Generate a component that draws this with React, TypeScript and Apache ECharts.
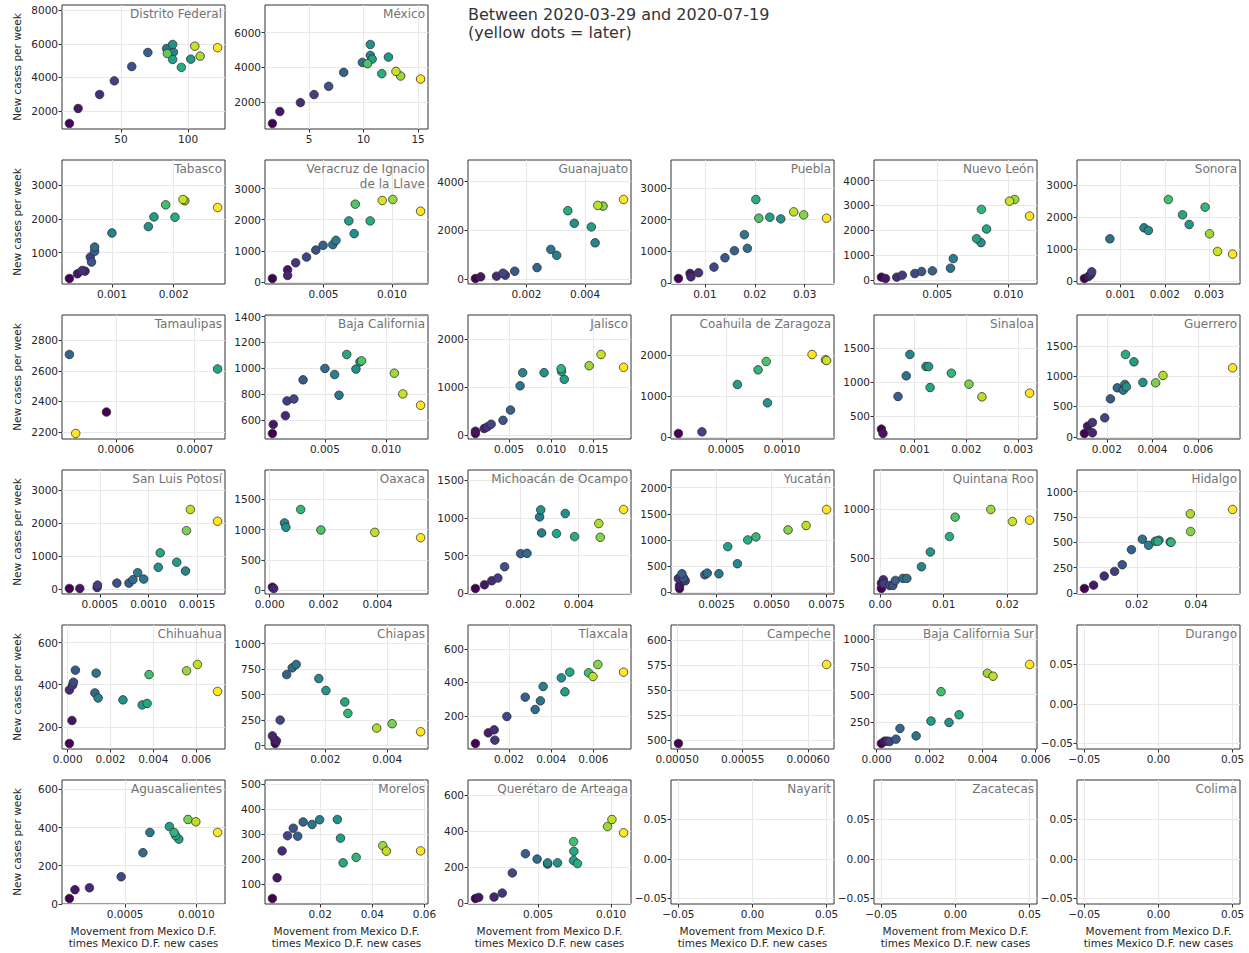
import React, { useEffect, useRef } from "react";
import * as echarts from "echarts";

type P = [number, number, number]; // [x, new cases, colour position 0..1 (time)]

const distritoFederal: P[] = [[11.5,1267,0],[18,2158,0.06],[34,2990,0.13],[45,3800,0.19],[58,4650,0.25],[70,5485,0.31],[84,5720,0.37],[88.5,5960,0.5],[89,5500,0.44],[102,5090,0.53],[88.5,5070,0.56],[95,4600,0.62],[84.5,5425,0.75],[109,5270,0.87],[105,5860,0.92],[122,5770,1]];
const mexico: P[] = [[1.64,781,0],[2.32,1467,0.06],[4.21,1981,0.13],[5.46,2438,0.19],[6.8,2914,0.25],[8.18,3714,0.31],[9.89,4286,0.37],[10.62,5314,0.5],[10.62,4686,0.46],[10.79,4476,0.56],[10.36,4210,0.72],[12.28,4590,0.53],[11.67,3638,0.62],[12.97,3771,0.92],[13.4,3505,0.85],[15.23,3333,1]];
const tabasco: P[] = [[0.000312,238,0],[0.000442,376,0.06],[0.00052,475,0.13],[0.000565,455,0.1],[0.00065,871,0.2],[0.00067,723,0.25],[0.00072,1040,0.31],[0.00072,1168,0.35],[0.001,1584,0.44],[0.00159,1772,0.5],[0.00168,2059,0.56],[0.00187,2416,0.7],[0.00202,2049,0.62],[0.00215,2574,0.92],[0.00218,2535,0.85],[0.00271,2337,1]];
const veracruz: P[] = [[0.00127,118,0],[0.00238,397,0.06],[0.00238,214,0.1],[0.00297,622,0.15],[0.00376,804,0.2],[0.00444,1029,0.25],[0.00497,1179,0.31],[0.00568,1201,0.37],[0.00591,1340,0.42],[0.00685,1962,0.56],[0.00724,1554,0.5],[0.00732,2498,0.72],[0.00841,1962,0.62],[0.00929,2616,0.94],[0.01006,2648,0.85],[0.01209,2273,1]];
const guanajuato: P[] = [[0.00026,14,0],[0.00044,82,0.06],[0.00098,109,0.12],[0.0012,231,0.2],[0.00128,150,0.17],[0.0016,313,0.28],[0.00236,462,0.33],[0.00283,1210,0.38],[0.00303,966,0.42],[0.00341,2802,0.62],[0.00363,2285,0.5],[0.00421,2135,0.56],[0.00434,1482,0.46],[0.00443,3019,0.9],[0.00461,2992,0.82],[0.00531,3264,1]];
const puebla: P[] = [[0.00466,138,0],[0.007,297,0.06],[0.00717,191,0.1],[0.0087,318,0.15],[0.0118,498,0.22],[0.014,795,0.28],[0.0159,1018,0.31],[0.0179,1526,0.4],[0.0185,1092,0.35],[0.0202,2639,0.62],[0.0208,2046,0.72],[0.023,2078,0.56],[0.0252,2025,0.5],[0.0278,2247,0.9],[0.0298,2152,0.82],[0.0344,2046,1]];
const nuevoLeon: P[] = [[0.00107,107,0],[0.00136,54,0.06],[0.00215,107,0.12],[0.00254,187,0.17],[0.00342,254,0.22],[0.0039,334,0.27],[0.00466,361,0.31],[0.00593,468,0.37],[0.00613,856,0.42],[0.00777,1659,0.56],[0.00808,1499,0.5],[0.00811,2837,0.65],[0.00847,2047,0.6],[0.01009,3171,0.92],[0.01045,3238,0.85],[0.0115,2569,1]];
const sonora: P[] = [[0.000185,83,0],[0.000277,145,0.06],[0.00035,291,0.18],[0.00033,208,0.12],[0.00076,1318,0.37],[0.00153,1661,0.44],[0.00163,1578,0.48],[0.00208,2543,0.7],[0.0024,2066,0.6],[0.00255,1765,0.53],[0.00291,2304,0.66],[0.00301,1474,0.85],[0.00319,924,0.92],[0.00353,841,1]];
const tamaulipas: P[] = [[0.000588,2330,0],[0.000541,2708,0.33],[0.000729,2613,0.6],[0.000549,2189,1]];
const bajaCalifornia: P[] = [[0.00072,496,0],[0.00079,566,0.06],[0.00178,634,0.12],[0.00191,748,0.18],[0.00247,763,0.22],[0.00322,911,0.28],[0.005,999,0.35],[0.00579,952,0.44],[0.00615,792,0.4],[0.00678,1107,0.6],[0.00753,994,0.5],[0.00786,1050,0.55],[0.00799,1058,0.72],[0.01066,962,0.85],[0.01135,802,0.92],[0.0128,714,1]];
const jalisco: P[] = [[0.00099,35,0],[0.00099,83,0.05],[0.00203,138,0.1],[0.0024,172,0.15],[0.00286,228,0.2],[0.00427,310,0.27],[0.00516,524,0.32],[0.0063,1030,0.4],[0.00661,1304,0.45],[0.00915,1304,0.5],[0.01123,1332,0.6],[0.01118,1387,0.65],[0.01155,1166,0.55],[0.01451,1449,0.85],[0.01592,1684,0.92],[0.0186,1415,1]];
const coahuila: P[] = [[0.000072,82,0],[0.000283,122,0.2],[0.000601,1281,0.55],[0.000786,1640,0.65],[0.000859,1844,0.72],[0.00087,832,0.52],[0.00127,2016,1],[0.00139,1885,0.9],[0.0014,1869,0.93]];
const sinaloa: P[] = [[0.00036,309,0],[0.00039,245,0.05],[0.00068,789,0.3],[0.00084,1093,0.38],[0.00091,1407,0.45],[0.00122,1230,0.5],[0.00127,1230,0.53],[0.0013,921,0.6],[0.00171,1132,0.65],[0.00205,970,0.8],[0.0023,784,0.9],[0.00322,838,1]];
const guerrero: P[] = [[0.00102,55,0],[0.00116,176,0.06],[0.00137,66,0.1],[0.00137,236,0.15],[0.00191,313,0.2],[0.00216,626,0.28],[0.00246,808,0.33],[0.00272,769,0.4],[0.00279,863,0.45],[0.00286,824,0.5],[0.00282,1357,0.62],[0.00319,1236,0.55],[0.00358,896,0.5],[0.00414,890,0.8],[0.00446,1011,0.88],[0.00751,1137,1]];
const sanLuisPotosi: P[] = [[0.000186,10,0],[0.000293,10,0.06],[0.000471,41,0.12],[0.000475,112,0.18],[0.000674,173,0.25],[0.000798,173,0.3],[0.000839,275,0.35],[0.000888,490,0.42],[0.00095,296,0.38],[0.0011,653,0.5],[0.00112,1091,0.6],[0.00129,806,0.55],[0.00138,541,0.45],[0.00139,1765,0.8],[0.00143,2407,0.9],[0.00171,2050,1]];
const oaxaca: P[] = [[0.0001,50,0],[0.00015,28,0.1],[0.00055,1111,0.45],[0.0006,1039,0.5],[0.00115,1333,0.65],[0.0019,994,0.72],[0.0039,955,0.9],[0.0056,867,1]];
const michoacan: P[] = [[0.00046,66,0],[0.00077,115,0.06],[0.00102,168,0.12],[0.00123,204,0.18],[0.00146,354,0.25],[0.00201,527,0.3],[0.00223,531,0.35],[0.00266,1013,0.4],[0.0027,1106,0.5],[0.00273,801,0.42],[0.00324,792,0.6],[0.00354,1058,0.48],[0.00386,752,0.62],[0.00469,925,0.88],[0.00474,743,0.82],[0.00554,1111,1]];
const yucatan: P[] = [[0.00082,71,0],[0.00082,128,0.06],[0.00077,263,0.12],[0.00108,218,0.18],[0.00093,353,0.3],[0.00101,269,0.25],[0.00197,333,0.33],[0.00208,365,0.36],[0.00261,353,0.4],[0.00301,872,0.56],[0.00345,545,0.45],[0.00392,1000,0.62],[0.00429,1058,0.66],[0.00575,1192,0.82],[0.00657,1276,0.9],[0.0075,1583,1]];
const quintanaRoo: P[] = [[0.0002,186,0],[0.0002,241,0.06],[0.0005,276,0.12],[0.0006,235,0.18],[0.0015,217,0.2],[0.002,217,0.25],[0.0024,269,0.3],[0.0036,290,0.35],[0.0042,290,0.38],[0.0065,410,0.45],[0.0079,562,0.52],[0.0109,721,0.62],[0.0118,921,0.72],[0.0174,1000,0.85],[0.0208,876,0.92],[0.0235,890,1]];
const hidalgo: P[] = [[0.0023,43,0],[0.0054,76,0.06],[0.009,166,0.12],[0.0125,212,0.18],[0.0151,278,0.25],[0.0182,427,0.3],[0.0219,530,0.38],[0.024,470,0.42],[0.0263,510,0.5],[0.0275,520,0.58],[0.0271,510,0.62],[0.0313,503,0.55],[0.0316,500,0.65],[0.0381,781,0.88],[0.0382,606,0.82],[0.0524,824,1]];
const chihuahua: P[] = [[0.00008,121,0],[0.0002,230,0.06],[0.00008,375,0.12],[0.00023,398,0.18],[0.00027,412,0.22],[0.00036,469,0.28],[0.00127,361,0.35],[0.00133,455,0.4],[0.00142,337,0.44],[0.00258,328,0.5],[0.00348,304,0.55],[0.00371,311,0.6],[0.0038,448,0.7],[0.00555,466,0.85],[0.00606,496,0.9],[0.007,368,1]];
const chiapas: P[] = [[0.00029,95,0.1],[0.00037,53,0.05],[0.00038,20,0],[0.00042,46,0.08],[0.00054,250,0.2],[0.00075,697,0.3],[0.00093,763,0.35],[0.00106,796,0.38],[0.00179,658,0.45],[0.00202,540,0.52],[0.00263,428,0.6],[0.00273,316,0.65],[0.00366,171,0.88],[0.00416,214,0.8],[0.00508,135,1]];
const tlaxcala: P[] = [[0.00041,34,0],[0.00102,98,0.08],[0.0013,116,0.12],[0.00133,54,0.15],[0.0019,196,0.2],[0.00277,312,0.3],[0.00324,238,0.35],[0.00349,290,0.38],[0.00362,376,0.42],[0.00448,428,0.5],[0.00465,344,0.55],[0.00488,462,0.6],[0.00577,458,0.7],[0.00598,436,0.9],[0.00621,508,0.82],[0.00743,462,1]];
const campeche: P[] = [[0.000501,497,0],[0.000614,576,1]];
const bajaCaliforniaSur: P[] = [[0.00018,58,0],[0.0003,79,0.06],[0.0004,79,0.12],[0.00049,76,0.2],[0.00073,97,0.28],[0.00088,194,0.33],[0.00149,127,0.4],[0.00205,261,0.55],[0.00243,527,0.7],[0.00273,248,0.5],[0.00311,318,0.6],[0.00418,694,0.85],[0.00439,667,0.9],[0.00577,773,1]];
const durango: P[] = [];
const aguascalientes: P[] = [[0.000108,28,0],[0.000147,74,0.06],[0.000249,84,0.12],[0.000472,142,0.22],[0.000625,268,0.35],[0.000674,374,0.4],[0.000811,405,0.55],[0.000844,374,0.65],[0.000855,358,0.6],[0.000877,339,0.58],[0.000942,442,0.8],[0.000997,430,0.9],[0.00115,374,1]];
const morelos: P[] = [[0.0017,41,0],[0.0035,124,0.06],[0.0054,232,0.12],[0.0075,293,0.2],[0.0097,323,0.25],[0.0114,291,0.3],[0.0135,348,0.33],[0.0169,338,0.38],[0.0198,357,0.42],[0.0266,358,0.5],[0.0278,283,0.55],[0.0288,184,0.6],[0.0338,206,0.65],[0.044,253,0.85],[0.0454,231,0.9],[0.0585,232,1]];
const queretaro: P[] = [[0.0007,26,0],[0.00093,32,0.05],[0.00198,34,0.1],[0.00254,56,0.15],[0.00323,168,0.22],[0.00413,275,0.3],[0.00493,245,0.35],[0.00565,217,0.4],[0.00565,224,0.45],[0.00633,224,0.5],[0.00743,237,0.55],[0.00745,288,0.6],[0.0077,220,0.62],[0.00743,342,0.7],[0.00976,426,0.85],[0.01006,465,0.9],[0.01086,391,1]];
const nayarit: P[] = [];
const zacatecas: P[] = [];
const colima: P[] = [];

const panelNames = ["Distrito Federal","México","Tabasco","Veracruz de Ignacio\nde la Llave","Guanajuato","Puebla","Nuevo León","Sonora","Tamaulipas","Baja California","Jalisco","Coahuila de Zaragoza","Sinaloa","Guerrero","San Luis Potosí","Oaxaca","Michoacán de Ocampo","Yucatán","Quintana Roo","Hidalgo","Chihuahua","Chiapas","Tlaxcala","Campeche","Baja California Sur","Durango","Aguascalientes","Morelos","Querétaro de Arteaga","Nayarit","Zacatecas","Colima"];
const panelPoints: P[][] = [distritoFederal, mexico, tabasco, veracruz, guanajuato, puebla, nuevoLeon, sonora, tamaulipas, bajaCalifornia, jalisco, coahuila, sinaloa, guerrero, sanLuisPotosi, oaxaca, michoacan, yucatan, quintanaRoo, hidalgo, chihuahua, chiapas, tlaxcala, campeche, bajaCaliforniaSur, durango, aguascalientes, morelos, queretaro, nayarit, zacatecas, colima];

const E = ["−0.05","0.00","0.05"];
const xTickLabels: string[][] = [
  ["50","100"],["5","10","15"],
  ["0.001","0.002"],["0.005","0.010"],["0.002","0.004"],["0.01","0.02","0.03"],["0.005","0.010"],["0.001","0.002","0.003"],
  ["0.0006","0.0007"],["0.005","0.010"],["0.005","0.010","0.015"],["0.0005","0.0010"],["0.001","0.002","0.003"],["0.002","0.004","0.006"],
  ["0.0005","0.0010","0.0015"],["0.000","0.002","0.004"],["0.002","0.004"],["0.0025","0.0050","0.0075"],["0.00","0.01","0.02"],["0.02","0.04"],
  ["0.000","0.002","0.004","0.006"],["0.002","0.004"],["0.002","0.004","0.006"],["0.00050","0.00055","0.00060"],["0.000","0.002","0.004","0.006"],E,
  ["0.0005","0.0010"],["0.02","0.04","0.06"],["0.005","0.010"],E,E,E,
];
const yTickLabels: string[][] = [
  ["2000","4000","6000","8000"],["2000","4000","6000"],
  ["1000","2000","3000"],["0","1000","2000","3000"],["0","2000","4000"],["0","1000","2000","3000"],["0","1000","2000","3000","4000"],["0","1000","2000","3000"],
  ["2200","2400","2600","2800"],["600","800","1000","1200","1400"],["0","1000","2000"],["0","1000","2000"],["500","1000","1500"],["0","500","1000","1500"],
  ["0","1000","2000","3000"],["0","500","1000","1500"],["0","500","1000","1500"],["0","500","1000","1500","2000"],["500","1000"],["0","250","500","750","1000"],
  ["200","400","600"],["0","250","500","750","1000"],["0","200","400","600"],["500","525","550","575","600"],["0","250","500","750","1000"],E,
  ["0","200","400","600"],["100","200","300","400","500"],["0","200","400","600"],E,E,E,
];

const TITLE = "Between 2020-03-29 and 2020-07-19\n(yellow dots = later)";
const Y_NAME = "New cases per week";
const X_NAME = "Movement from Mexico D.F.\ntimes Mexico D.F. new cases";

const VIRIDIS = ["#440154","#482475","#414487","#355f8d","#2a788e","#21918c","#22a884","#44bf70","#7ad151","#bddf26","#fde725"];
function viridis(t: number): string {
  const s = Math.max(0, Math.min(1, t)) * 10;
  const i = Math.min(9, Math.floor(s));
  const f = s - i;
  const a = VIRIDIS[i], b = VIRIDIS[i + 1];
  const c = [0, 2, 4].map((k) => {
    const va = parseInt(a.substr(1 + k, 2), 16), vb = parseInt(b.substr(1 + k, 2), 16);
    return Math.round(va + (vb - va) * f);
  });
  return `rgb(${c[0]},${c[1]},${c[2]})`;
}
const num = (s: string) => Number(s.replace("−", "-"));

const FONT = "DejaVu Sans";
const COL_LEFT = 62, COL_STEP = 203, W = 163;
const ROW_TOP = 5, ROW_STEP = 155, H = 124;

function buildOption() {
  const grid: any[] = [], xAxis: any[] = [], yAxis: any[] = [], series: any[] = [], graphic: any[] = [];
  panelNames.forEach((name, i) => {
    const row = i < 2 ? 0 : 1 + Math.floor((i - 2) / 6);
    const col = i < 2 ? i : (i - 2) % 6;
    const left = COL_LEFT + col * COL_STEP;
    const top = ROW_TOP + row * ROW_STEP;
    grid.push({ left, top, width: W, height: H, show: true, borderColor: "#333", borderWidth: 1, backgroundColor: "#fff", z: 0 });
    const pts = panelPoints[i];
    let dx0 = -0.05, dx1 = 0.05, dy0 = -0.05, dy1 = 0.05;
    if (pts.length) {
      dx0 = Math.min(...pts.map((p) => p[0])); dx1 = Math.max(...pts.map((p) => p[0]));
      dy0 = Math.min(...pts.map((p) => p[1])); dy1 = Math.max(...pts.map((p) => p[1]));
    }
    const xr = dx1 - dx0, yr = dy1 - dy0;
    const xmin = dx0 - 0.05 * xr, xmax = dx1 + 0.05 * xr;
    const ymin = dy0 - 0.07 * yr, ymax = dy1 + 0.5 * yr;
    const xl = xTickLabels[i], yl = yTickLabels[i];
    const xv = xl.map(num).filter((v) => v >= xmin && v <= xmax);
    const yv = yl.map(num).filter((v) => v >= ymin && v <= ymax);
    const fmt = (labels: string[]) => (v: number) => {
      const hit = labels.find((l) => Math.abs(num(l) - v) <= 1e-12 + Math.abs(v) * 1e-6);
      return hit ?? "";
    };
    const common = (vals: number[], labels: string[]) => ({
      axisLine: { show: false, onZero: false },
      axisTick: { show: true, length: 3.5, customValues: vals, lineStyle: { color: "#333", width: 1 } },
      axisLabel: { customValues: vals, formatter: fmt(labels), color: "#262626", fontSize: 10.5, fontFamily: FONT, margin: 4, hideOverlap: false },
      splitLine: { show: true, lineStyle: { color: "#e8e8e8", width: 1 } },
    });
    xAxis.push({
      type: "value", gridIndex: i, min: xmin, max: xmax, ...common(xv, xl),
      name: row === 5 ? X_NAME : "", nameLocation: "middle", nameGap: 21,
      nameTextStyle: { color: "#262626", fontSize: 10.5, fontFamily: FONT, lineHeight: 12 },
    });
    yAxis.push({
      type: "value", gridIndex: i, min: ymin, max: ymax, ...common(yv, yl),
      name: col === 0 ? Y_NAME : "", nameLocation: "middle", nameRotate: 90, nameGap: 40,
      nameTextStyle: { color: "#262626", fontSize: 10.5, fontFamily: FONT },
    });
    const sorted = [...pts].sort((a, b) => a[2] - b[2]);
    series.push({
      type: "scatter", xAxisIndex: i, yAxisIndex: i, symbolSize: 8.5, silent: true,
      itemStyle: { borderColor: "#2b2b2b", borderWidth: 0.8, opacity: 1 },
      data: sorted.map((p) => ({ value: [p[0], p[1]], itemStyle: { color: viridis(p[2]) } })),
    });
    graphic.push({
      type: "text", x: left + W - 3, y: top + 2, z: 10,
      style: { text: name, align: "right", verticalAlign: "top", fill: "#737373", fontSize: 12, fontFamily: FONT, lineHeight: 14.5 },
    });
  });
  graphic.push({
    type: "text", x: 468, y: 6, z: 10,
    style: { text: TITLE, align: "left", verticalAlign: "top", fill: "#333", fontSize: 16, fontFamily: FONT, lineHeight: 17.5 },
  });
  return {
    animation: false,
    backgroundColor: "#fff",
    textStyle: { fontFamily: FONT },
    grid, xAxis, yAxis, series, graphic,
  };
}

export default function App() {
  const ref = useRef<HTMLDivElement>(null);
  useEffect(() => {
    if (!ref.current) return;
    const chart = echarts.init(ref.current, undefined, { renderer: "svg" });
    chart.setOption(buildOption() as any);
    return () => chart.dispose();
  }, []);
  return <div ref={ref} style={{ position: "absolute", left: 0, top: 0, width: 1249, height: 953 }} />;
}
